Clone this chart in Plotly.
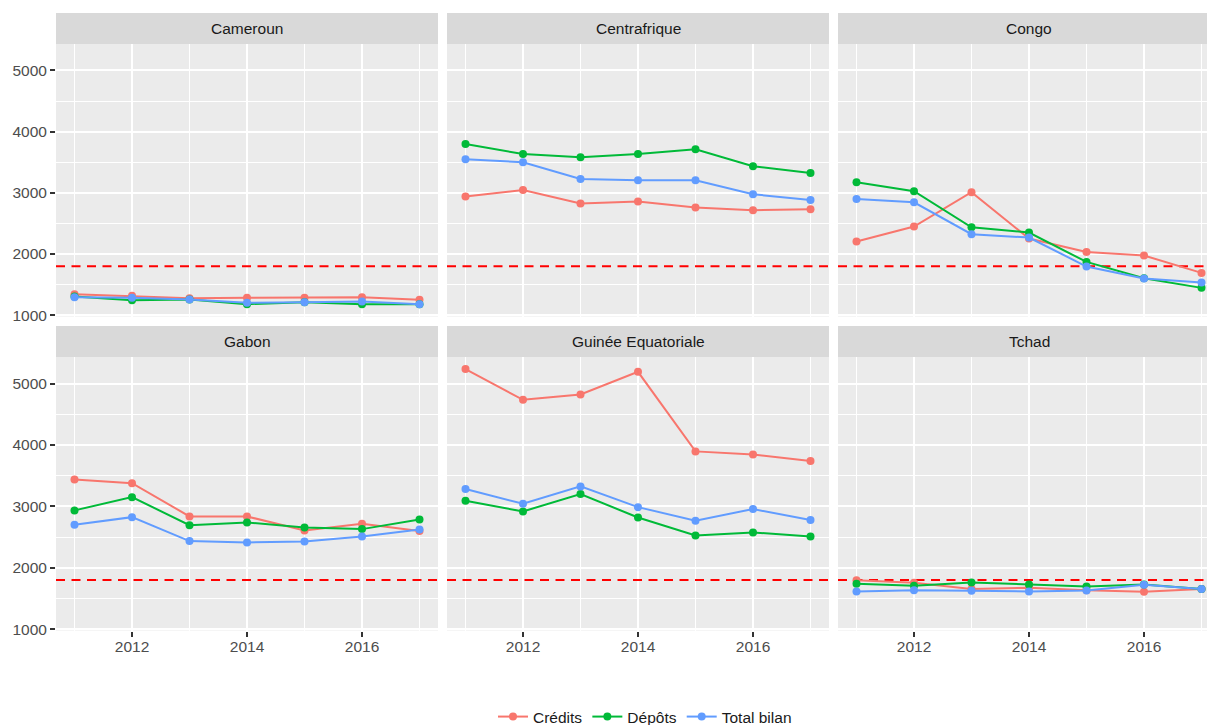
import plotly.graph_objects as go

years = [2011, 2012, 2013, 2014, 2015, 2016, 2017]
countries = ["Cameroun", "Centrafrique", "Congo", "Gabon", "Guinée Equatoriale", "Tchad"]
series_names = ["Crédits", "Dépôts", "Total bilan"]
series_colors = ["#F8766D", "#00BA38", "#619CFF"]
threshold = 1800

credits = [
    [1343, 1316, 1278, 1283, 1283, 1294, 1250],
    [2938, 3046, 2824, 2857, 2759, 2715, 2731],
    [2203, 2449, 3009, 2252, 2034, 1975, 1691],
    [3439, 3378, 2836, 2836, 2608, 2715, 2597],
    [5235, 4735, 4823, 5191, 3895, 3846, 3737],
    [1798, 1754, 1652, 1673, 1635, 1608, 1652],
]
depots = [
    [1305, 1245, 1256, 1180, 1212, 1180, 1180],
    [3797, 3634, 3580, 3634, 3711, 3433, 3324],
    [3172, 3025, 2437, 2350, 1870, 1604, 1446],
    [2934, 3150, 2694, 2738, 2657, 2629, 2787],
    [3090, 2917, 3199, 2819, 2526, 2575, 2510],
    [1738, 1705, 1760, 1728, 1695, 1728, 1652],
]
total_bilan = [
    [1294, 1283, 1256, 1201, 1212, 1223, 1180],
    [3548, 3499, 3226, 3205, 3205, 2976, 2883],
    [2899, 2845, 2323, 2269, 1795, 1599, 1534],
    [2699, 2824, 2434, 2412, 2428, 2510, 2624],
    [3281, 3041, 3325, 2987, 2764, 2955, 2776],
    [1614, 1635, 1624, 1614, 1630, 1722, 1652],
]
all_series = [credits, depots, total_bilan]

W, H = 1207, 725
FONT = "Liberation Sans, Arial, sans-serif"
FS = 15.5

# panel pixel geometry
col_px = [(56, 438), (447, 829), (838, 1207)]
row_px = [(44, 316.5), (357, 630.5)]
strip_px = [(13, 44), (326, 357)]
px_per_year = 57.5
x_left = 2011 - 18.5 / px_per_year
y_range = [978, 5432]

fig = go.Figure()
shapes = []
annotations = []
layout = dict(
    template="none",
    width=W, height=H,
    margin=dict(l=0, r=0, t=0, b=0, pad=0, autoexpand=False),
    paper_bgcolor="white",
    plot_bgcolor="#EBEBEB",
    font=dict(family=FONT, color="#4D4D4D", size=FS),
    showlegend=True,
    hovermode="closest",
    legend=dict(orientation="h", x=645 / W, xanchor="center", y=1 - 717 / H, yanchor="middle",
                font=dict(size=FS, color="#1A1A1A", family=FONT), bgcolor="rgba(0,0,0,0)",
                borderwidth=0, itemwidth=30, tracegroupgap=0),
)

for i, country in enumerate(countries):
    r, c = divmod(i, 3)
    n = i + 1
    xa = "x" if n == 1 else f"x{n}"
    ya = "y" if n == 1 else f"y{n}"
    xkey = "xaxis" if n == 1 else f"xaxis{n}"
    ykey = "yaxis" if n == 1 else f"yaxis{n}"
    x0p, x1p = col_px[c]
    y0p, y1p = row_px[r]
    width_px = x1p - x0p
    xr = [x_left, x_left + width_px / px_per_year]
    layout[xkey] = dict(
        domain=[x0p / W, x1p / W], anchor=ya, automargin=False,
        range=xr,
        tickmode="array", tickvals=[2012, 2014, 2016],
        showticklabels=(r == 1),
        ticks="outside" if r == 1 else "", ticklen=5, tickcolor="#333333", tickwidth=1.5,
        ticklabelstandoff=-3,
        showgrid=True, gridcolor="white", gridwidth=2, zeroline=False, showline=False,
        minor=dict(tickmode="array", tickvals=[2011, 2013, 2015, 2017], showgrid=True,
                   gridcolor="white", gridwidth=1, ticks=""),
        tickfont=dict(size=FS, color="#4D4D4D", family=FONT),
        fixedrange=True,
    )
    layout[ykey] = dict(
        domain=[1 - y1p / H, 1 - y0p / H], anchor=xa, automargin=False,
        range=y_range,
        tickmode="array", tickvals=[1000, 2000, 3000, 4000, 5000],
        showticklabels=(c == 0),
        ticks="outside" if c == 0 else "", ticklen=5, tickcolor="#333333", tickwidth=1.5,
        showgrid=True, gridcolor="white", gridwidth=2, zeroline=False, showline=False,
        minor=dict(tickmode="array", tickvals=[1500, 2500, 3500, 4500], showgrid=True,
                   gridcolor="white", gridwidth=1, ticks=""),
        tickfont=dict(size=FS, color="#4D4D4D", family=FONT),
        fixedrange=True,
    )
    # strip
    s0, s1 = strip_px[r]
    shapes.append(dict(type="rect", xref="paper", yref="paper",
                       x0=x0p / W, x1=x1p / W, y0=1 - s1 / H, y1=1 - s0 / H,
                       fillcolor="#D9D9D9", line=dict(width=0), layer="below"))
    annotations.append(dict(text=country, xref="paper", yref="paper",
                            x=(x0p + 191) / W, y=1 - (s0 + s1) / 2 / H,
                            xanchor="center", yanchor="middle", showarrow=False,
                            font=dict(size=FS, color="#1A1A1A", family=FONT)))
    # threshold line (drawn beneath the series)
    fig.add_trace(go.Scatter(
        x=xr, y=[threshold, threshold], mode="lines",
        line=dict(color="#FF0000", width=2, dash="9px,6.5px"),
        xaxis=xa, yaxis=ya, showlegend=False, hoverinfo="skip",
    ))
    for s, (name, color) in enumerate(zip(series_names, series_colors)):
        fig.add_trace(go.Scatter(
            x=years, y=all_series[s][i], mode="lines+markers", name=name,
            line=dict(color=color, width=2), marker=dict(color=color, size=8, line=dict(width=0)),
            xaxis=xa, yaxis=ya, legendgroup=name, showlegend=(i == 0),
            cliponaxis=False,
        ))

layout["shapes"] = shapes
layout["annotations"] = annotations
fig.update_layout(**layout)
fig.write_html("out.html")
